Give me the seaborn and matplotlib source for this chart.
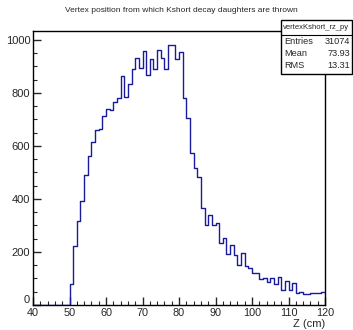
import numpy as np
import pandas as pd
import matplotlib
matplotlib.use("Agg")
import matplotlib.pyplot as plt
import seaborn as sns
from matplotlib.patches import Rectangle
from matplotlib.lines import Line2D
from matplotlib.ticker import MultipleLocator

# ---- data ----
bin_low = list(range(40, 120))  # 1 cm bins from 40 to 120
counts = [0] * 10 + [
    80, 224, 317, 392, 489, 561, 614, 660, 665, 714,       # 50-59
    740, 736, 765, 779, 865, 784, 834, 891, 933, 892,      # 60-69
    957, 867, 929, 891, 960, 932, 891, 980, 980, 929,      # 70-79
    952, 780, 704, 572, 518, 481, 365, 302, 340, 302,      # 80-89
    310, 233, 251, 191, 226, 189, 151, 197, 147, 141,      # 90-99
    119, 119, 97, 100, 88, 100, 79, 104, 57, 92,           # 100-109
    57, 82, 44, 50, 41, 41, 46, 46, 46, 50,                # 110-119
]
title = "Vertex position from which Kshort decay daughters are thrown"
hist_name = "vertexKshort_rz_py"
stat_labels = ["Entries", "Mean", "RMS"]
stat_values = ["31074", "73.93", "13.31"]
x_label = "Z (cm)"

df = pd.DataFrame({"z": np.array(bin_low, dtype=float) + 0.5,
                   "n": np.array(counts, dtype=float)})

sns.set_style("ticks")
plt.rcParams["font.family"] = ["Liberation Sans", "DejaVu Sans"]

W, H = 353, 330
fig = plt.figure(figsize=(W / 100, H / 100), dpi=100)
L, R, T, B = 33, 325, 31, 305
ax = fig.add_axes([L / W, 1 - B / H, (R - L) / W, (B - T) / H])

sns.histplot(data=df, x="z", weights="n", binwidth=1, binrange=(40, 120),
             element="step", fill=False, color="#1a1a9c", linewidth=1.0, ax=ax)

ax.set_xlim(40, 120)
ax.set_ylim(0, 1033)
ax.set_xlabel("")
ax.set_ylabel("")
for s in ax.spines.values():
    s.set_linewidth(1.0)
    s.set_color("black")
    s.set_zorder(5)

ax.xaxis.set_major_locator(MultipleLocator(10))
ax.xaxis.set_minor_locator(MultipleLocator(2))
ax.yaxis.set_major_locator(MultipleLocator(200))
ax.yaxis.set_minor_locator(MultipleLocator(50))
ax.tick_params(which="major", direction="in", length=5.5, width=1.0,
               labelsize=8, pad=2, top=False, right=False)
ax.tick_params(which="minor", direction="in", length=2.6, width=0.8,
               top=False, right=False)
ax.tick_params(axis="x", which="major", labelsize=7.8)

fig.canvas.draw()
for lab in ax.get_yticklabels():
    if lab.get_text() == "0":
        lab.set_va("bottom")

fig.text(181 / W, 1 - 10 / H, title, ha="center", va="center", fontsize=6.0)
fig.text(R / W, 1 - 324 / H, x_label, ha="right", va="center", fontsize=8)

# stats box
bx0, bx1, by0, by1, hy = 281, 352, 20, 74, 35
fig.add_artist(Rectangle((bx0 / W, 1 - by1 / H), (bx1 - bx0) / W, (by1 - by0) / H,
                         transform=fig.transFigure, facecolor="white",
                         edgecolor="black", linewidth=1.0, zorder=10))
fig.add_artist(Line2D([bx0 / W, bx1 / W], [1 - hy / H, 1 - hy / H],
                      transform=fig.transFigure, color="black", linewidth=0.8, zorder=11))
fig.text((bx0 + bx1) / 2 / W, 1 - 27.5 / H, hist_name, ha="center", va="center",
         fontsize=5.5, zorder=12)
for i, (lab, val) in enumerate(zip(stat_labels, stat_values)):
    yy = 1 - (42 + 12 * i) / H
    fig.text((bx0 + 3) / W, yy, lab, ha="left", va="center", fontsize=6.6, zorder=12)
    fig.text((bx1 - 2) / W, yy, val, ha="right", va="center", fontsize=6.6, zorder=12)

fig.savefig("out.png", dpi=100)
